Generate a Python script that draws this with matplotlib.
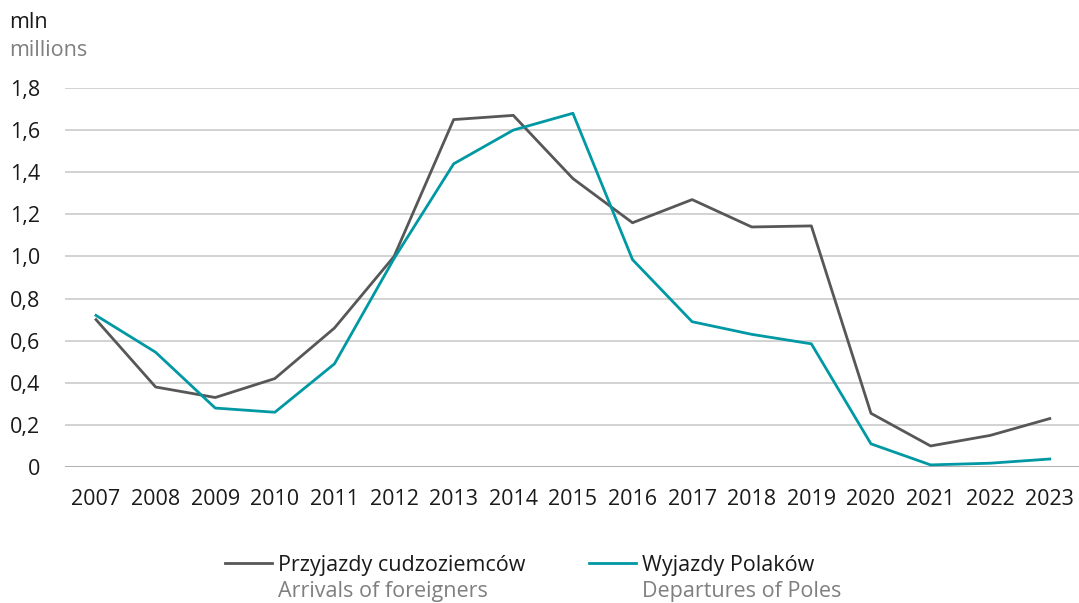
import matplotlib
matplotlib.use("Agg")
import matplotlib.pyplot as plt
from matplotlib.ticker import FixedLocator, FuncFormatter

years = list(range(2007, 2024))
arrivals = [0.70, 0.38, 0.33, 0.42, 0.66, 1.00, 1.65, 1.67, 1.37, 1.16, 1.27,
            1.14, 1.145, 0.255, 0.10, 0.15, 0.23]
departures = [0.72, 0.545, 0.28, 0.26, 0.49, 0.99, 1.44, 1.60, 1.68, 0.985, 0.69,
              0.63, 0.585, 0.11, 0.01, 0.018, 0.038]
y_ticks = [0, 0.2, 0.4, 0.6, 0.8, 1.0, 1.2, 1.4, 1.6, 1.8]

series_pl = ["Przyjazdy cudzoziemców", "Wyjazdy Polaków"]
series_en = ["Arrivals of foreigners", "Departures of Poles"]

GRAY = "#575757"
TEAL = "#0098a3"
FS = 15.5

plt.rcParams["font.family"] = ["Open Sans", "DejaVu Sans"]

W, H = 1079, 603
fig = plt.figure(figsize=(W / 100, H / 100), dpi=100)
ax = fig.add_axes([65 / W, 1 - 467 / H, 1 - 65 / W, (467 - 88) / H])

for v in y_ticks:
    ax.axhline(v, color="#9a9a9a" if v == 0 else "#c6c6c6", lw=1.1, zorder=1)

ax.plot(years, arrivals, color=GRAY, lw=2.0, zorder=3)
ax.plot(years, departures, color=TEAL, lw=2.0, zorder=3)

ax.set_xlim(2006.48, 2023.49)
ax.set_ylim(0, 1.8)
ax.xaxis.set_major_locator(FixedLocator(years))
ax.yaxis.set_major_locator(FixedLocator(y_ticks))
ax.yaxis.set_major_formatter(FuncFormatter(
    lambda v, p: "0" if v == 0 else f"{v:.1f}".replace(".", ",")))
ax.tick_params(axis="both", length=0, labelsize=FS, colors="#1a1a1a")
ax.tick_params(axis="y", pad=18)
ax.tick_params(axis="x", pad=15.5)
for s in ax.spines.values():
    s.set_visible(False)
ax.set_facecolor("none")

fig.text(9 / W, 1 - 22 / H, "mln", fontsize=FS, color="#1a1a1a", va="center")
fig.text(9 / W, 1 - 50 / H, "millions", fontsize=FS, color="#7f7f7f", va="center")

# legend: line segment, Polish label, English label underneath
legend_items = [(225, 272, 278, GRAY), (589, 636, 642, TEAL)]
for (x0, x1, xt, c), pl, en in zip(legend_items, series_pl, series_en):
    fig.add_artist(plt.Line2D([x0 / W, x1 / W], [1 - 563 / H] * 2,
                              color=c, lw=2.0))
    fig.text(xt / W, 1 - 565 / H, pl, fontsize=FS, color="#1a1a1a",
             va="center")
    fig.text(xt / W, 1 - 592 / H, en, fontsize=FS, color="#7f7f7f",
             va="center")

fig.savefig("out.png", dpi=100)
